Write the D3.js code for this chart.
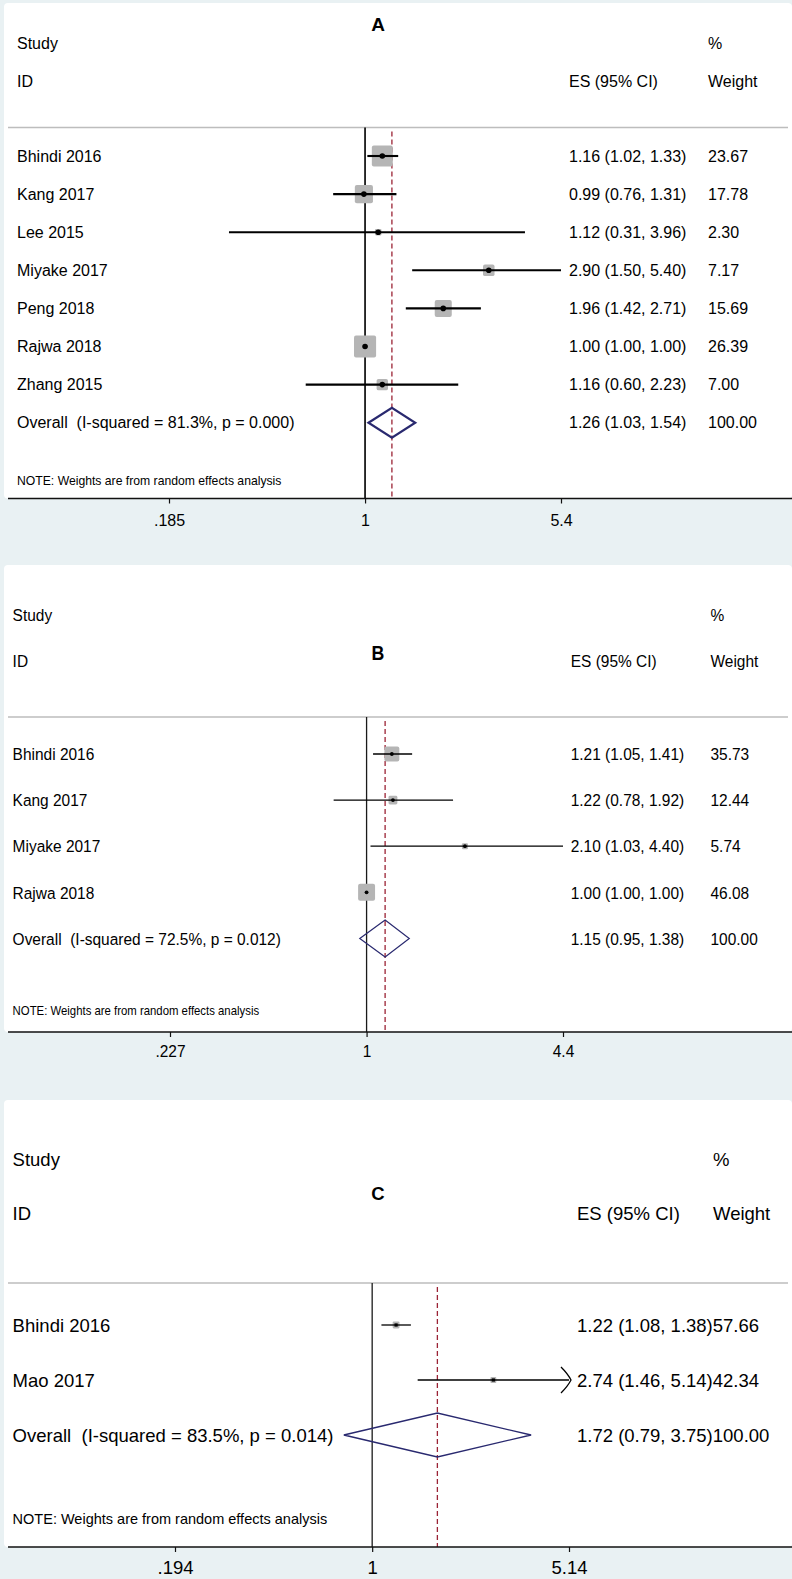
<!DOCTYPE html>
<html>
<head>
<meta charset="utf-8">
<script src="https://cdn.jsdelivr.net/npm/d3@7"></script>
<style>
  body { margin: 0; background: #fff; }
  svg { display: block; }
  text { font-family: "Liberation Sans", Arial, sans-serif; fill: #000; white-space: pre; }
</style>
</head>
<body>
<div id="chart"></div>
<script>
// ---- data ----
const studiesA = ["Bhindi 2016", "Kang 2017", "Lee 2015", "Miyake 2017", "Peng 2018", "Rajwa 2018", "Zhang 2015"];
const esA = [1.16, 0.99, 1.12, 2.90, 1.96, 1.00, 1.16];
const lowA = [1.02, 0.76, 0.31, 1.50, 1.42, 1.00, 0.60];
const highA = [1.33, 1.31, 3.96, 5.40, 2.71, 1.00, 2.23];
const weightA = [23.67, 17.78, 2.30, 7.17, 15.69, 26.39, 7.00];
const overallA = {label: "Overall  (I-squared = 81.3%, p = 0.000)", es: 1.26, low: 1.03, high: 1.54, weight: 100};
const ticksA = [0.185, 1, 5.4];
const tickLabelsA = [".185", "1", "5.4"];

const studiesB = ["Bhindi 2016", "Kang 2017", "Miyake 2017", "Rajwa 2018"];
const esB = [1.21, 1.22, 2.10, 1.00];
const lowB = [1.05, 0.78, 1.03, 1.00];
const highB = [1.41, 1.92, 4.40, 1.00];
const weightB = [35.73, 12.44, 5.74, 46.08];
const overallB = {label: "Overall  (I-squared = 72.5%, p = 0.012)", es: 1.15, low: 0.95, high: 1.38, weight: 100};
const ticksB = [0.227, 1, 4.4];
const tickLabelsB = [".227", "1", "4.4"];

const studiesC = ["Bhindi 2016", "Mao 2017"];
const esC = [1.22, 2.74];
const lowC = [1.08, 1.46];
const highC = [1.38, 5.14];
const weightC = [57.66, 42.34];
const overallC = {label: "Overall  (I-squared = 83.5%, p = 0.014)", es: 1.72, low: 0.79, high: 3.75, weight: 100};
const ticksC = [0.194, 1, 5.14];
const tickLabelsC = [".194", "1", "5.14"];

const noteText = "NOTE: Weights are from random effects analysis";

// ---- layout per panel ----
const panels = [
  {title: "A", studies: studiesA, es: esA, low: lowA, high: highA, weight: weightA, overall: overallA,
   ticks: ticksA, tickLabels: tickLabelsA,
   top: 3, titleY: 24, studyY: 43, idY: 81, lineY: 127.5, row0: 156, rowStep: 38.1,
   noteY: 480.5, axisY: 498.5, tickLabY: 520, x0: 169, x1: 561,
   labelX: 17, esX: 569, wX: 708, font: 16, sx: 1, titleFont: 19, noteFont: 12.2, noteSx: 1,
   lw: 2.1, boxK: 4.3, dotR: 2.8, dh: 15, dlw: 2.2, marker: "dot"},
  {title: "B", studies: studiesB, es: esB, low: lowB, high: highB, weight: weightB, overall: overallB,
   ticks: ticksB, tickLabels: tickLabelsB,
   top: 565, titleY: 653, studyY: 615, idY: 661, lineY: 717, row0: 754, rowStep: 46.1,
   noteY: 1011, axisY: 1032, tickLabY: 1051, x0: 170, x1: 563,
   labelX: 12.6, esX: 570.7, wX: 710.5, font: 17, sx: 0.91, titleFont: 19.5, noteFont: 12.5, noteSx: 0.91,
   lw: 1.3, boxK: 2.5, dotR: 1.9, dh: 18.5, dlw: 1.2, marker: "dot"},
  {title: "C", studies: studiesC, es: esC, low: lowC, high: highC, weight: weightC, overall: overallC,
   ticks: ticksC, tickLabels: tickLabelsC,
   top: 1100, titleY: 1193, studyY: 1159, idY: 1213, lineY: 1283, row0: 1325, rowStep: 55,
   noteY: 1519, axisY: 1547, tickLabY: 1568, x0: 175, x1: 569,
   labelX: 12.6, esX: 577, wX: 713, font: 18.5, sx: 1, titleFont: 18.5, noteFont: 14.5, noteSx: 1,
   lw: 1.3, boxK: 0.9, dotR: 1.6, dh: 22, dlw: 1.3, marker: "square"}
];

const width = 792, height = 1579;
const bandColor = "#e9f1f3";
const boxColor = "#b5b5b5";
const diamondColor = "#29296f";
const refColor = "#9b2335";
const fmt = d3.format(".2f");

const svg = d3.select("#chart").append("svg")
  .attr("width", width)
  .attr("height", height);

svg.append("rect").attr("width", width).attr("height", height).attr("fill", bandColor);

function addText(g, x, y, str, size, sx, opts = {}) {
  const t = g.append("text")
    .attr("transform", `translate(${x},${y}) scale(${sx},1)`)
    .attr("dominant-baseline", "central")
    .style("font-size", size + "px")
    .text(str);
  if (opts.anchor) t.attr("text-anchor", opts.anchor);
  if (opts.bold) t.style("font-weight", "bold");
  return t;
}

panels.forEach(p => {
  const g = svg.append("g");

  // white plot region
  g.append("rect")
    .attr("x", 4).attr("y", p.top)
    .attr("width", width - 4).attr("height", p.axisY - p.top)
    .attr("rx", 4)
    .attr("fill", "#fff");

  const x = d3.scaleLog().domain([p.ticks[0], p.ticks[2]]).range([p.x0, p.x1]);
  const rowY = i => p.row0 + i * p.rowStep;
  const overallY = rowY(p.studies.length);

  // header
  addText(g, 378, p.titleY, p.title, p.titleFont, p.sx, {anchor: "middle", bold: true});
  addText(g, p.labelX, p.studyY, "Study", p.font, p.sx);
  addText(g, p.labelX, p.idY, "ID", p.font, p.sx);
  addText(g, p.esX, p.idY, "ES (95% CI)", p.font, p.sx);
  addText(g, p.wX, p.studyY, "%", p.font, p.sx);
  addText(g, p.wX, p.idY, "Weight", p.font, p.sx);

  g.append("line")
    .attr("x1", 8).attr("x2", 788)
    .attr("y1", p.lineY).attr("y2", p.lineY)
    .attr("stroke", "#bdbdbd").attr("stroke-width", 1.3);

  // null line and pooled estimate line
  g.append("line")
    .attr("x1", x(1)).attr("x2", x(1))
    .attr("y1", p.lineY).attr("y2", p.axisY)
    .attr("stroke", "#1a1a1a").attr("stroke-width", p.lw === 2.1 ? 1.8 : 1.3);

  g.append("line")
    .attr("x1", x(p.overall.es)).attr("x2", x(p.overall.es))
    .attr("y1", p.lineY + 4).attr("y2", p.axisY)
    .attr("stroke", refColor).attr("stroke-width", 1.3)
    .attr("stroke-dasharray", "5,3");

  // study rows
  p.studies.forEach((s, i) => {
    const y = rowY(i);
    const side = p.boxK * Math.sqrt(p.weight[i]);
    g.append("rect")
      .attr("x", x(p.es[i]) - side / 2).attr("y", y - side / 2)
      .attr("width", side).attr("height", side)
      .attr("rx", Math.min(2, side / 6))
      .attr("fill", boxColor);

    const hiX = Math.min(x(p.high[i]), x.range()[1]);
    g.append("line")
      .attr("x1", x(p.low[i])).attr("x2", hiX)
      .attr("y1", y).attr("y2", y)
      .attr("stroke", "#000").attr("stroke-width", p.lw);

    // arrow when the interval reaches the axis limit
    if (p.high[i] >= p.ticks[2] && p.marker === "square") {
      g.append("path")
        .attr("d", `M${hiX - 8},${y - 13} Q${hiX - 1},${y - 6} ${hiX + 2},${y} Q${hiX - 1},${y + 6} ${hiX - 8},${y + 13}`)
        .attr("fill", "none").attr("stroke", "#000").attr("stroke-width", 1.3);
    }

    if (p.marker === "dot") {
      g.append("circle")
        .attr("cx", x(p.es[i])).attr("cy", y).attr("r", p.dotR)
        .attr("fill", "#000");
    } else {
      g.append("rect")
        .attr("x", x(p.es[i]) - p.dotR).attr("y", y - p.dotR)
        .attr("width", p.dotR * 2).attr("height", p.dotR * 2)
        .attr("fill", "#000");
    }

    addText(g, p.labelX, y, s, p.font, p.sx);
    const esLabel = `${fmt(p.es[i])} (${fmt(p.low[i])}, ${fmt(p.high[i])})`;
    if (p.title === "C") {
      addText(g, p.esX, y, esLabel + fmt(p.weight[i]), p.font, p.sx);
    } else {
      addText(g, p.esX, y, esLabel, p.font, p.sx);
      addText(g, p.wX, y, fmt(p.weight[i]), p.font, p.sx);
    }
  });

  // overall diamond
  const o = p.overall;
  g.append("path")
    .attr("d", `M${x(o.low)},${overallY} L${x(o.es)},${overallY - p.dh} L${x(o.high)},${overallY} L${x(o.es)},${overallY + p.dh} Z`)
    .attr("fill", "none")
    .attr("stroke", diamondColor)
    .attr("stroke-width", p.dlw);

  addText(g, p.labelX, overallY, o.label, p.font, p.sx);
  const oLabel = `${fmt(o.es)} (${fmt(o.low)}, ${fmt(o.high)})`;
  if (p.title === "C") {
    addText(g, p.esX, overallY, oLabel + fmt(o.weight), p.font, p.sx);
  } else {
    addText(g, p.esX, overallY, oLabel, p.font, p.sx);
    addText(g, p.wX, overallY, fmt(o.weight), p.font, p.sx);
  }

  addText(g, p.labelX, p.noteY, noteText, p.noteFont, p.noteSx);

  // x axis
  g.append("line")
    .attr("x1", 8).attr("x2", width)
    .attr("y1", p.axisY).attr("y2", p.axisY)
    .attr("stroke", "#111").attr("stroke-width", 1.5);

  const axis = g.append("g")
    .attr("transform", `translate(0,${p.axisY})`)
    .call(d3.axisBottom(x).tickValues(p.ticks).tickFormat((d, i) => p.tickLabels[i]).tickSize(5));
  axis.select(".domain").remove();
  axis.selectAll(".tick line").attr("stroke", "#111").attr("stroke-width", 1.2);
  axis.selectAll(".tick text")
    .attr("y", p.tickLabY - p.axisY)
    .attr("dy", "0.35em")
    .attr("transform", `scale(${p.sx},1)`)
    .attr("x", 0)
    .style("font-size", p.font + "px")
    .style("font-family", "'Liberation Sans', Arial, sans-serif")
    .attr("fill", "#000");
});
</script>
</body>
</html>
